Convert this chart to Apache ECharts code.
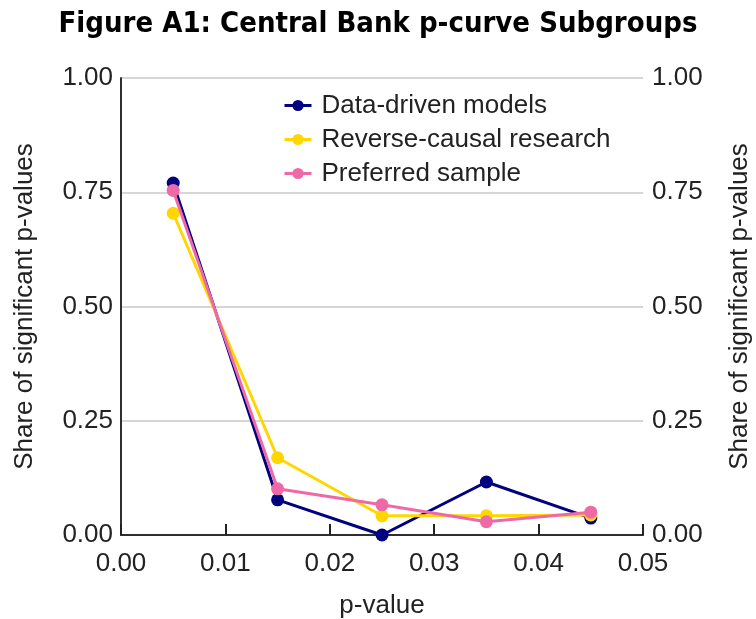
<!DOCTYPE html>
<html><head><meta charset="utf-8">
<script src="https://cdn.jsdelivr.net/npm/echarts@6/dist/echarts.min.js"></script>
<style>html,body{margin:0;padding:0;background:#fff}#c{width:756px;height:619px}</style>
</head><body><div id="c"></div>
<script>
const pValues = [0.005, 0.015, 0.025, 0.035, 0.045];
const dataDriven = [0.770, 0.077, 0.000, 0.116, 0.037];
const reverseCausal = [0.704, 0.169, 0.042, 0.042, 0.044];
const preferred = [0.754, 0.101, 0.066, 0.029, 0.050];
const seriesNames = ['Data-driven models', 'Reverse-causal research', 'Preferred sample'];
const colors = ['#000080', '#FFD700', '#EE6AA7'];

const font = 'Liberation Sans, Arial, sans-serif';
const pair = (xs, ys) => xs.map((x, i) => [x, ys[i]]);
const allData = [dataDriven, reverseCausal, preferred];

const chart = echarts.init(document.getElementById('c'));
chart.setOption({
  animation: false,
  backgroundColor: '#fff',
  title: {
    text: 'Figure A1: Central Bank p-curve Subgroups',
    left: 'center', top: 5,
    textStyle: {fontFamily: 'DejaVu Sans Condensed, DejaVu Sans', fontWeight: 'bold', fontSize: 29, color: '#000'}
  },
  legend: {
    orient: 'vertical', left: 278, top: 87,
    itemWidth: 27, itemHeight: 14, itemGap: 7,
    lineStyle: {width: 3},
    textStyle: {fontFamily: font, fontSize: 26, color: '#222', lineHeight: 27, padding: [0, 0, 0, 5]},
    data: seriesNames
  },
  grid: {left: 121, right: 113, top: 78, bottom: 84, containLabel: false, outerBoundsMode: 'none'},
  xAxis: [{
    type: 'value', min: 0, max: 0.05, interval: 0.01,
    name: 'p-value', nameLocation: 'middle', nameGap: 58,
    nameTextStyle: {fontFamily: font, fontSize: 26, color: '#222'},
    axisLine: {show: true, lineStyle: {color: '#222', width: 2}},
    axisTick: {show: true, inside: true, length: 11, lineStyle: {color: '#222', width: 2}},
    axisLabel: {fontFamily: font, fontSize: 26, color: '#222', margin: 16,
      formatter: v => v.toFixed(2)},
    splitLine: {show: false}
  }, {
    type: 'value', min: 0, max: 0.05, position: 'top',
    axisLine: {show: true, lineStyle: {color: '#333', width: 1.5}},
    axisTick: {show: false}, axisLabel: {show: false}, splitLine: {show: false}
  }],
  yAxis: [{
    type: 'value', min: 0, max: 1, interval: 0.25,
    name: 'Share of significant p-values', nameLocation: 'middle', nameGap: 83,
    nameTextStyle: {fontFamily: font, fontSize: 26, color: '#222'},
    axisLine: {show: true, lineStyle: {color: '#222', width: 1.5}},
    axisTick: {show: false},
    axisLabel: {fontFamily: font, fontSize: 26, color: '#222', margin: 8,
      formatter: v => v.toFixed(2)},
    splitLine: {show: true, lineStyle: {color: '#c8c8c8', width: 1.5}}
  }, {
    type: 'value', min: 0, max: 1, interval: 0.25, position: 'right',
    name: 'Share of significant p-values', nameLocation: 'middle', nameGap: 84,
    nameRotate: 90,
    nameTextStyle: {fontFamily: font, fontSize: 26, color: '#222'},
    axisLine: {show: true, lineStyle: {color: '#222', width: 1.5}},
    axisTick: {show: false},
    axisLabel: {fontFamily: font, fontSize: 26, color: '#222', margin: 9,
      formatter: v => v.toFixed(2)},
    splitLine: {show: false}
  }],
  series: seriesNames.map((n, i) => ({
    name: n, type: 'line', data: pair(pValues, allData[i]),
    symbol: 'circle', symbolSize: 13, showSymbol: true,
    lineStyle: {color: colors[i], width: 3},
    itemStyle: {color: colors[i]},
    z: 2 + i
  }))
});
</script></body></html>
